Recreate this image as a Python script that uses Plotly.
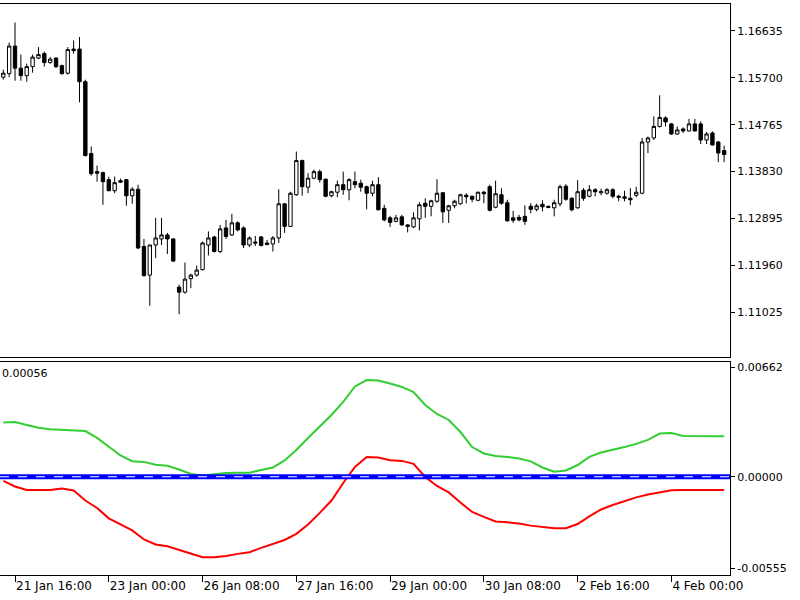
import plotly.graph_objects as go

# ---------------- data ----------------
bar_idx = list(range(124))

open_ = [1.1571, 1.1578, 1.1633, 1.1589, 1.1574, 1.1592, 1.1609, 1.1618, 1.1600, 1.1609,
         1.1594, 1.1579, 1.1627, 1.1627, 1.1562, 1.1419, 1.1383, 1.1381, 1.1367, 1.1345,
         1.1365, 1.1367, 1.1335, 1.1348, 1.1234, 1.1177, 1.1237, 1.1249, 1.1257, 1.1249,
         1.1153, 1.1143, 1.1170, 1.1177, 1.1188, 1.1237, 1.1253, 1.1224, 1.1271, 1.1257,
         1.1281, 1.1271, 1.1237, 1.1243, 1.1253, 1.1241, 1.1239, 1.1251, 1.1319, 1.1274,
         1.1337, 1.1405, 1.1352, 1.1370, 1.1383, 1.1368, 1.1335, 1.1342, 1.1357, 1.1347,
         1.1363, 1.1360, 1.1353, 1.1340, 1.1357, 1.1310, 1.1291, 1.1284, 1.1293, 1.1277,
         1.1273, 1.1289, 1.1320, 1.1314, 1.1324, 1.1341, 1.1306, 1.1315, 1.1319, 1.1336,
         1.1334, 1.1326, 1.1342, 1.1353, 1.1312, 1.1337, 1.1321, 1.1291, 1.1292, 1.1294,
         1.1314, 1.1308, 1.1318, 1.1314, 1.1311, 1.1319, 1.1354, 1.1330, 1.1311, 1.1346,
         1.1334, 1.1347, 1.1341, 1.1340, 1.1347, 1.1334, 1.1333, 1.1330, 1.1336, 1.1340,
         1.1442, 1.1450, 1.1473, 1.1490, 1.1478, 1.1458, 1.1468, 1.1464, 1.1478, 1.1478,
         1.1446, 1.1460, 1.1442, 1.1425]
high = [1.1586, 1.1640, 1.1680, 1.1616, 1.1598, 1.1616, 1.1631, 1.1622, 1.1611, 1.1611,
        1.1596, 1.1631, 1.1644, 1.1651, 1.1566, 1.1433, 1.1395, 1.1383, 1.1373, 1.1373,
        1.1369, 1.1368, 1.1352, 1.1357, 1.1249, 1.1237, 1.1291, 1.1291, 1.1261, 1.1251,
        1.1158, 1.1202, 1.1180, 1.1196, 1.1244, 1.1264, 1.1255, 1.1277, 1.1287, 1.1299,
        1.1284, 1.1274, 1.1254, 1.1255, 1.1255, 1.1247, 1.1255, 1.1348, 1.1320, 1.1343,
        1.1423, 1.1407, 1.1380, 1.1387, 1.1387, 1.1369, 1.1345, 1.1365, 1.1383, 1.1370,
        1.1383, 1.1367, 1.1355, 1.1365, 1.1372, 1.1317, 1.1295, 1.1297, 1.1297, 1.1278,
        1.1302, 1.1322, 1.1330, 1.1327, 1.1368, 1.1342, 1.1317, 1.1327, 1.1339, 1.1340,
        1.1335, 1.1343, 1.1345, 1.1357, 1.1365, 1.1350, 1.1327, 1.1305, 1.1297, 1.1316,
        1.1320, 1.1319, 1.1326, 1.1315, 1.1327, 1.1357, 1.1358, 1.1332, 1.1366, 1.1350,
        1.1356, 1.1350, 1.1349, 1.1350, 1.1350, 1.1337, 1.1345, 1.1350, 1.1353, 1.1450,
        1.1453, 1.1493, 1.1535, 1.1493, 1.1480, 1.1473, 1.1471, 1.1488, 1.1488, 1.1483,
        1.1462, 1.1463, 1.1444, 1.1435]
low = [1.1566, 1.1571, 1.1564, 1.1564, 1.1562, 1.1580, 1.1607, 1.1592, 1.1598, 1.1589,
       1.1576, 1.1576, 1.1618, 1.1521, 1.1413, 1.1375, 1.1363, 1.1317, 1.1344, 1.1340,
       1.1361, 1.1315, 1.1319, 1.1229, 1.1174, 1.1116, 1.1211, 1.1237, 1.1219, 1.1203,
       1.1099, 1.1140, 1.1151, 1.1174, 1.1186, 1.1216, 1.1222, 1.1221, 1.1249, 1.1255,
       1.1264, 1.1231, 1.1233, 1.1235, 1.1234, 1.1236, 1.1224, 1.1241, 1.1261, 1.1273,
       1.1335, 1.1335, 1.1340, 1.1368, 1.1361, 1.1332, 1.1332, 1.1332, 1.1337, 1.1326,
       1.1350, 1.1343, 1.1308, 1.1334, 1.1306, 1.1284, 1.1273, 1.1282, 1.1275, 1.1262,
       1.1271, 1.1266, 1.1291, 1.1294, 1.1321, 1.1281, 1.1281, 1.1310, 1.1317, 1.1320,
       1.1322, 1.1324, 1.1320, 1.1304, 1.1310, 1.1317, 1.1284, 1.1281, 1.1284, 1.1277,
       1.1300, 1.1304, 1.1304, 1.1310, 1.1294, 1.1314, 1.1325, 1.1304, 1.1309, 1.1325,
       1.1332, 1.1334, 1.1336, 1.1337, 1.1330, 1.1324, 1.1324, 1.1316, 1.1332, 1.1338,
       1.1420, 1.1446, 1.1471, 1.1473, 1.1456, 1.1456, 1.1460, 1.1463, 1.1463, 1.1438,
       1.1438, 1.1435, 1.1402, 1.1402]
close = [1.1579, 1.1633, 1.1589, 1.1574, 1.1592, 1.1611, 1.1616, 1.1600, 1.1607, 1.1592,
         1.1578, 1.1626, 1.1624, 1.1562, 1.1415, 1.1379, 1.1380, 1.1363, 1.1345, 1.1361,
         1.1362, 1.1335, 1.1348, 1.1231, 1.1176, 1.1237, 1.1251, 1.1257, 1.1249, 1.1205,
         1.1143, 1.1169, 1.1177, 1.1187, 1.1241, 1.1251, 1.1224, 1.1269, 1.1254, 1.1281,
         1.1267, 1.1237, 1.1251, 1.1241, 1.1236, 1.1238, 1.1251, 1.1319, 1.1274, 1.1340,
         1.1405, 1.1353, 1.1370, 1.1383, 1.1367, 1.1334, 1.1343, 1.1357, 1.1347, 1.1367,
         1.1357, 1.1352, 1.1340, 1.1357, 1.1307, 1.1287, 1.1282, 1.1291, 1.1277, 1.1274,
         1.1291, 1.1317, 1.1314, 1.1325, 1.1340, 1.1303, 1.1315, 1.1324, 1.1337, 1.1333,
         1.1328, 1.1342, 1.1339, 1.1306, 1.1339, 1.1320, 1.1285, 1.1286, 1.1287, 1.1284,
         1.1308, 1.1315, 1.1313, 1.1312, 1.1321, 1.1353, 1.1328, 1.1307, 1.1343, 1.1330,
         1.1347, 1.1343, 1.1343, 1.1347, 1.1334, 1.1332, 1.1330, 1.1327, 1.1342, 1.1442,
         1.1450, 1.1473, 1.1491, 1.1482, 1.1458, 1.1466, 1.1464, 1.1478, 1.1464, 1.1446,
         1.1458, 1.1436, 1.1420, 1.1417]

ind_x = list(range(0, 124, 2)) + [123]
green_line = [0.00329, 0.00332, 0.00314, 0.00297, 0.00288, 0.00283, 0.00282, 0.00277, 0.00235, 0.00180,
              0.00129, 0.00094, 0.00090, 0.00073, 0.00067, 0.00044, 0.00017, 0.00007, 0.00017, 0.00023,
              0.00025, 0.00025, 0.00041, 0.00056, 0.00099, 0.00162, 0.00235, 0.00303, 0.00374, 0.00453,
              0.00547, 0.00586, 0.00583, 0.00565, 0.00544, 0.00513, 0.00435, 0.00380, 0.00344, 0.00271,
              0.00180, 0.00141, 0.00126, 0.00120, 0.00111, 0.00093, 0.00056, 0.00031, 0.00038, 0.00071,
              0.00120, 0.00147, 0.00162, 0.00180, 0.00199, 0.00223, 0.00262, 0.00265, 0.00247, 0.00245,
              0.00245, 0.00245, 0.00245]
red_line = [-0.00025, -0.00059, -0.00080, -0.00080, -0.00080, -0.00071, -0.00083, -0.00144, -0.00189, -0.00252,
            -0.00289, -0.00325, -0.00380, -0.00410, -0.00421, -0.00443, -0.00467, -0.00487, -0.00487, -0.00480,
            -0.00467, -0.00457, -0.00431, -0.00405, -0.00383, -0.00346, -0.00289, -0.00219, -0.00144, -0.00038,
            0.00059, 0.00120, 0.00117, 0.00100, 0.00096, 0.00078, -0.00001, -0.00056, -0.00095, -0.00156,
            -0.00213, -0.00243, -0.00271, -0.00276, -0.00283, -0.00296, -0.00306, -0.00312, -0.00312, -0.00286,
            -0.00240, -0.00198, -0.00171, -0.00147, -0.00125, -0.00107, -0.00094, -0.00082, -0.00080, -0.00080,
            -0.00080, -0.00080, -0.00080]

date_tick_idx = [2, 18, 34, 50, 66, 82, 98, 114]
date_tick_text = ["21 Jan 16:00", "23 Jan 00:00", "26 Jan 08:00", "27 Jan 16:00",
                  "29 Jan 00:00", "30 Jan 08:00", "2 Feb 16:00", "4 Feb 00:00"]
price_ticks = [1.16635, 1.15700, 1.14765, 1.13830, 1.12895, 1.11960, 1.11025]
ind_ticks = [0.00662, 0.0, -0.00555]
ind_tick_text = ["0.00662", "0.00000", "-0.00555"]
ind_label = "0.00056"

# ---------------- figure ----------------
FONT = dict(family="DejaVu Sans", size=11, color="black")

fig = go.Figure()
fig.add_trace(go.Candlestick(
    x=bar_idx, open=open_, high=high, low=low, close=close,
    xaxis="x", yaxis="y", whiskerwidth=0,
    increasing=dict(line=dict(color="black", width=1), fillcolor="white"),
    decreasing=dict(line=dict(color="black", width=1), fillcolor="black"),
    showlegend=False, hoverinfo="skip"))

fig.add_shape(type="line", xref="x2 domain", x0=0, x1=1, yref="y2", y0=0, y1=0,
              line=dict(color="#0000FF", width=5), layer="above")
fig.add_shape(type="line", xref="x2 domain", x0=0, x1=1, yref="y2", y0=0, y1=0,
              line=dict(color="white", width=1, dash="dash"), layer="above")

fig.add_trace(go.Scatter(x=ind_x, y=green_line, xaxis="x2", yaxis="y2", mode="lines",
                         line=dict(color="#32CD32", width=2), showlegend=False, hoverinfo="skip"))
fig.add_trace(go.Scatter(x=ind_x, y=red_line, xaxis="x2", yaxis="y2", mode="lines",
                         line=dict(color="#FF0000", width=2), showlegend=False, hoverinfo="skip"))

axis_common = dict(showline=True, mirror=True, linecolor="black", linewidth=1,
                   showgrid=False, zeroline=False, tickfont=FONT, tickcolor="black")
xr = [-0.563, 124.0]

fig.update_layout(
    width=800, height=600,
    margin=dict(l=0, r=70, t=4, b=25, autoexpand=False),
    paper_bgcolor="white", plot_bgcolor="white",
    font=FONT, showlegend=False, boxgap=0.18,
    xaxis=dict(domain=[0, 1], anchor="y", range=xr, showticklabels=False, ticks="",
               rangeslider=dict(visible=False), **axis_common),
    yaxis=dict(domain=[0.38179, 1], anchor="x", side="right", range=[1.10140, 1.17167],
               tickvals=price_ticks, ticktext=[f"{v:.5f}" for v in price_ticks],
               ticks="outside", ticklen=4, **axis_common),
    xaxis2=dict(domain=[0, 1], anchor="y2", range=xr, matches="x",
                tickvals=date_tick_idx, ticktext=date_tick_text, ticks="outside", ticklen=6,
                ticklabelposition="outside right", **axis_common),
    yaxis2=dict(domain=[0, 0.37303], anchor="x2", side="right", range=[-0.00595, 0.00695],
                tickvals=ind_ticks, ticktext=ind_tick_text, ticks="outside", ticklen=4,
                **axis_common),
)
fig.update_xaxes(tickfont=dict(family="DejaVu Sans", size=12, color="black"), selector=dict(anchor="y2"))

fig.add_annotation(text=ind_label, xref="x2 domain", yref="y2 domain", x=0.0, y=1,
                   xanchor="left", yanchor="top", xshift=0, yshift=-3, showarrow=False,
                   font=FONT)

fig.write_html("out.html", config={"displayModeBar": False},
               post_script="document.body.style.margin='0px';")
